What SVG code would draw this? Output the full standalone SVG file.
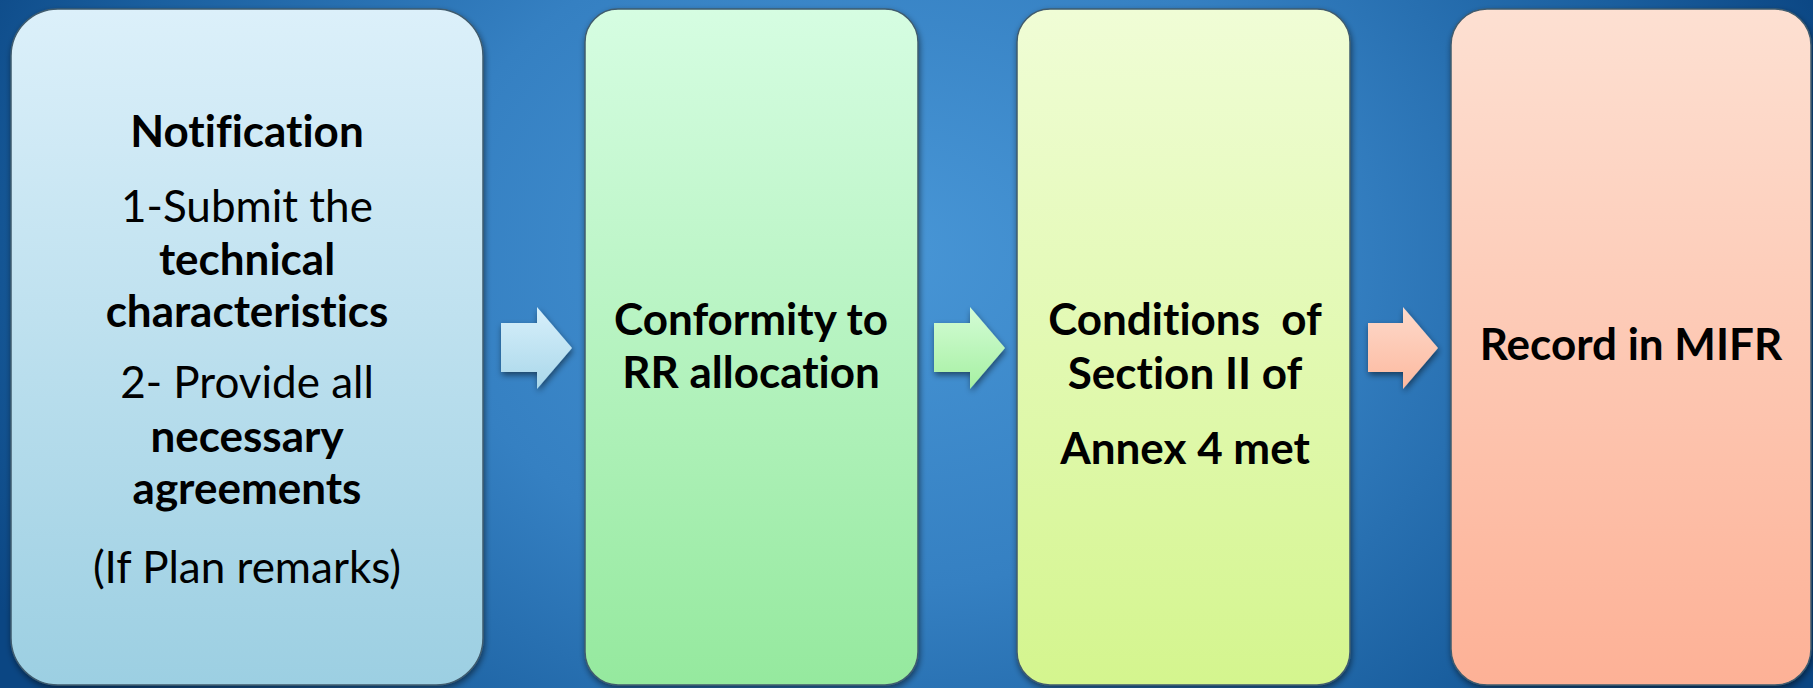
<svg xmlns="http://www.w3.org/2000/svg" width="1813" height="688" viewBox="0 0 1813 688">
<defs>
<radialGradient id="bg" cx="880" cy="250" r="1000" gradientUnits="userSpaceOnUse" gradientTransform="translate(880 250) scale(1 0.75) translate(-880 -250)">
<stop offset="0" stop-color="#4896d6"/>
<stop offset="0.45" stop-color="#3580c2"/>
<stop offset="0.8" stop-color="#1a5f9f"/>
<stop offset="1" stop-color="#0b4683"/>
</radialGradient>
<linearGradient id="g1" x1="0" y1="0" x2="0" y2="1">
<stop offset="0" stop-color="#dcf0fa"/>
<stop offset="1" stop-color="#9ccfe2"/>
</linearGradient>
<linearGradient id="g2" x1="0" y1="0" x2="0" y2="1">
<stop offset="0" stop-color="#d6fde2"/>
<stop offset="1" stop-color="#95e99e"/>
</linearGradient>
<linearGradient id="g3" x1="0" y1="0" x2="0" y2="1">
<stop offset="0" stop-color="#f0fdd6"/>
<stop offset="1" stop-color="#d4f58e"/>
</linearGradient>
<linearGradient id="g4" x1="0" y1="0" x2="0" y2="1">
<stop offset="0" stop-color="#fde0d2"/>
<stop offset="1" stop-color="#fdb196"/>
</linearGradient>
<linearGradient id="a1" x1="0" y1="0" x2="0" y2="1">
<stop offset="0" stop-color="#d8f0fb"/>
<stop offset="1" stop-color="#a9d7ea"/>
</linearGradient>
<linearGradient id="a2" x1="0" y1="0" x2="0" y2="1">
<stop offset="0" stop-color="#d4fcd6"/>
<stop offset="1" stop-color="#a6f0a2"/>
</linearGradient>
<linearGradient id="a3" x1="0" y1="0" x2="0" y2="1">
<stop offset="0" stop-color="#fddacb"/>
<stop offset="1" stop-color="#fdb99f"/>
</linearGradient>
<filter id="sh" x="-10%" y="-10%" width="120%" height="120%">
<feGaussianBlur in="SourceAlpha" stdDeviation="3"/>
<feOffset dx="1" dy="3" result="b"/>
<feComponentTransfer><feFuncA type="linear" slope="0.5"/></feComponentTransfer>
<feMerge><feMergeNode/><feMergeNode in="SourceGraphic"/></feMerge>
</filter>
</defs>
<style>
.box{stroke:#3f5b6e;stroke-width:1.5}
.t{font-family:Lato,"Open Sans","Liberation Sans",sans-serif;font-size:44px;fill:#000;text-anchor:middle;font-variant-ligatures:none}
.b{font-weight:bold}
</style>
<rect x="0" y="0" width="1813" height="688" fill="url(#bg)"/>
<g id="node1">
<rect class="box" x="11" y="9" width="472" height="676" rx="47" ry="47" fill="url(#g1)" filter="url(#sh)"/>
<text class="t b" x="247" y="147">Notification</text>
<text class="t" x="247" y="222">1-Submit the</text>
<text class="t b" x="247" y="275">technical</text>
<text class="t b" x="247" y="327">characteristics</text>
<text class="t" x="247" y="398">2- Provide all</text>
<text class="t b" x="247" y="452">necessary</text>
<text class="t b" x="247" y="504">agreements</text>
<text class="t" x="247" y="583">(If Plan remarks)</text>
</g>
<g id="node2">
<rect class="box" x="585" y="9" width="333" height="676" rx="33" ry="33" fill="url(#g2)" filter="url(#sh)"/>
<text class="t b" x="751" y="335">Conformity to</text>
<text class="t b" x="751" y="388">RR allocation</text>
</g>
<g id="node3">
<rect class="box" x="1017" y="9" width="333" height="676" rx="33" ry="33" fill="url(#g3)" filter="url(#sh)"/>
<text class="t b" x="1185" y="335" xml:space="preserve">Conditions  of</text>
<text class="t b" x="1185" y="389">Section II of</text>
<text class="t b" x="1185" y="464">Annex 4 met</text>
</g>
<g id="node4">
<rect class="box" x="1451" y="9" width="360" height="676" rx="36" ry="36" fill="url(#g4)" filter="url(#sh)"/>
<text class="t b" x="1631" y="360">Record in MIFR</text>
</g>
<g id="connectors">
<path d="M501 323 H537 V307 L572 348 L537 389 V372 H501 Z" fill="url(#a1)" filter="url(#sh)"/>
<path d="M934 323 H970 V307 L1005 348 L970 389 V372 H934 Z" fill="url(#a2)" filter="url(#sh)"/>
<path d="M1368 323 H1403 V307 L1438 348 L1403 389 V372 H1368 Z" fill="url(#a3)" filter="url(#sh)"/>
</g>
</svg>
